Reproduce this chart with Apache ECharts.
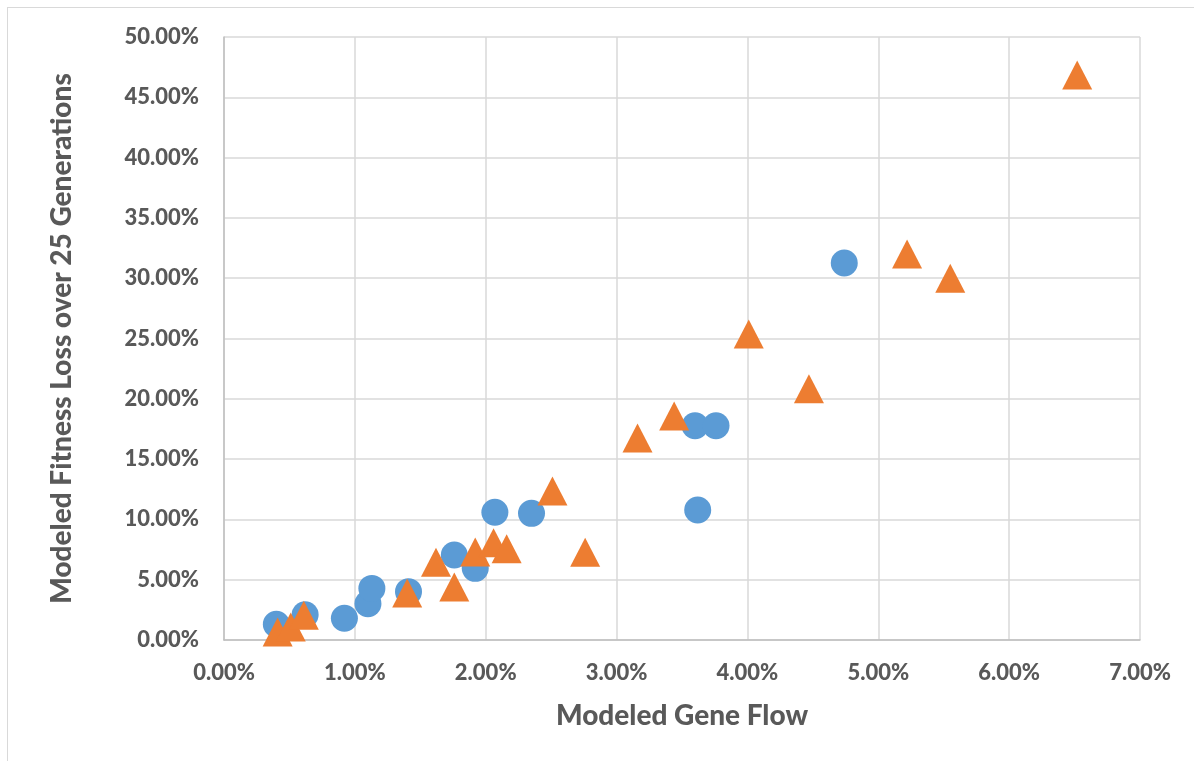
<!DOCTYPE html>
<html>
<head>
<meta charset="utf-8">
<script src="https://cdn.jsdelivr.net/npm/echarts@6/dist/echarts.min.js"></script>
<style>
html,body{margin:0;padding:0;background:#fff;overflow:hidden;}
#frame{position:absolute;left:7px;top:7px;width:1300px;height:900px;border:1px solid #D9D9D9;box-sizing:border-box;}
#chart{position:absolute;left:0;top:0;width:1194px;height:761px;}
</style>
</head>
<body>
<div id="frame"></div>
<div id="chart"></div>
<script>
// Gene flow (x, %) and fitness loss (y, %)
const circleX = [0.40, 0.62, 0.92, 1.10, 1.13, 1.41, 1.76, 1.92, 2.07, 2.35, 3.60, 3.76, 3.62, 4.74];
const circleY = [1.30, 2.10, 1.80, 3.00, 4.28, 4.01, 7.05, 5.94, 10.59, 10.50, 17.77, 17.77, 10.78, 31.26];
const triX = [0.41, 0.51, 0.61, 1.40, 1.62, 1.76, 1.92, 2.06, 2.16, 2.51, 2.76, 3.16, 3.44, 4.01, 4.47, 5.22, 5.55, 6.52];
const triY = [0.66, 1.08, 2.05, 3.90, 6.44, 4.39, 7.30, 8.07, 7.57, 12.35, 7.27, 16.75, 18.57, 25.37, 20.84, 32.00, 30.00, 46.85];
const xTicks = [0, 1, 2, 3, 4, 5, 6, 7];
const yTicks = [0, 5, 10, 15, 20, 25, 30, 35, 40, 45, 50];

const font = 'Lato, "Open Sans", sans-serif';
const textColor = '#595959';
const chart = echarts.init(document.getElementById('chart'));
chart.setOption({
  animation: false,
  backgroundColor: 'transparent',
  grid: {left: 224, right: 54, top: 37, bottom: 121},
  xAxis: {
    type: 'value', min: xTicks[0], max: xTicks[xTicks.length-1], interval: 1,
    name: 'Modeled Gene Flow', nameLocation: 'middle', nameGap: 62,
    nameTextStyle: {fontFamily: font, fontWeight: 900, fontSize: 28, color: textColor},
    axisLine: {show: true, onZero: false, lineStyle: {color: '#BFBFBF', width: 1.5}},
    axisTick: {show: false},
    axisLabel: {fontFamily: font, fontWeight: 900, fontSize: 22, color: textColor, margin: 22,
      formatter: v => v.toFixed(2) + '%'},
    splitLine: {show: true, lineStyle: {color: '#D9D9D9', width: 1.5}}
  },
  yAxis: {
    type: 'value', min: yTicks[0], max: yTicks[yTicks.length-1], interval: 5,
    name: 'Modeled Fitness Loss over 25 Generations', nameLocation: 'middle', nameGap: 148,
    nameTextStyle: {fontFamily: font, fontWeight: 900, fontSize: 28, color: textColor},
    axisLine: {show: true, lineStyle: {color: '#BFBFBF', width: 1.5}},
    axisTick: {show: false},
    axisLabel: {fontFamily: font, fontWeight: 900, fontSize: 22, color: textColor, margin: 25,
      formatter: v => v.toFixed(2) + '%'},
    splitLine: {show: true, lineStyle: {color: '#D9D9D9', width: 1.5}}
  },
  series: [
    {type: 'scatter', symbol: 'circle', symbolSize: 27,
     itemStyle: {color: '#5B9BD5', opacity: 1},
     data: circleX.map((x, i) => [x, circleY[i]])},
    {type: 'scatter', symbol: 'triangle', symbolSize: [30, 29],
     itemStyle: {color: '#ED7D31', opacity: 1},
     data: triX.map((x, i) => [x, triY[i]])}
  ]
});
</script>
</body>
</html>
